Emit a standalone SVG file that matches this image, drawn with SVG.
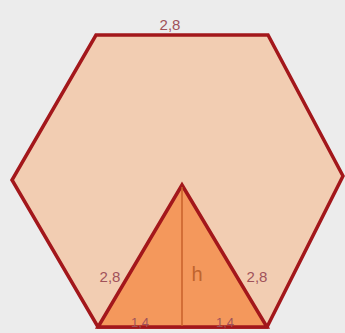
<svg xmlns="http://www.w3.org/2000/svg" width="345" height="333" viewBox="0 0 345 333">
<style>
.lbl{font-family:"Liberation Sans",Arial,sans-serif;font-size:15px;fill:#a0525a;text-anchor:middle}
.edge{stroke:#a3171b;stroke-width:3.5;stroke-linejoin:miter}
</style>
<rect width="345" height="333" fill="#ececec"/>
<g id="hexagon">
<polygon class="edge" points="96,35 268,35 343,176 267,327 98,327 12,180" fill="#f2cdb2"/>
</g>
<g id="triangle">
<polygon class="edge" points="182,185 267,327 98,327" fill="#f4985c"/>
</g>
<g id="connectors">
<line x1="182" y1="187" x2="182" y2="326" stroke="#c8602a" stroke-width="1.5"/>
</g>
<g id="labels">
<text class="lbl" x="170" y="30">2,8</text>
<text class="lbl" x="110" y="282">2,8</text>
<text class="lbl" x="257" y="282">2,8</text>
<text class="lbl" x="197" y="281" style="font-size:20px;fill:#c0642e">h</text>
<text class="lbl" x="140" y="327" style="font-size:13px">1,4</text>
<text class="lbl" x="225" y="327" style="font-size:13px">1,4</text>
</g>
</svg>
